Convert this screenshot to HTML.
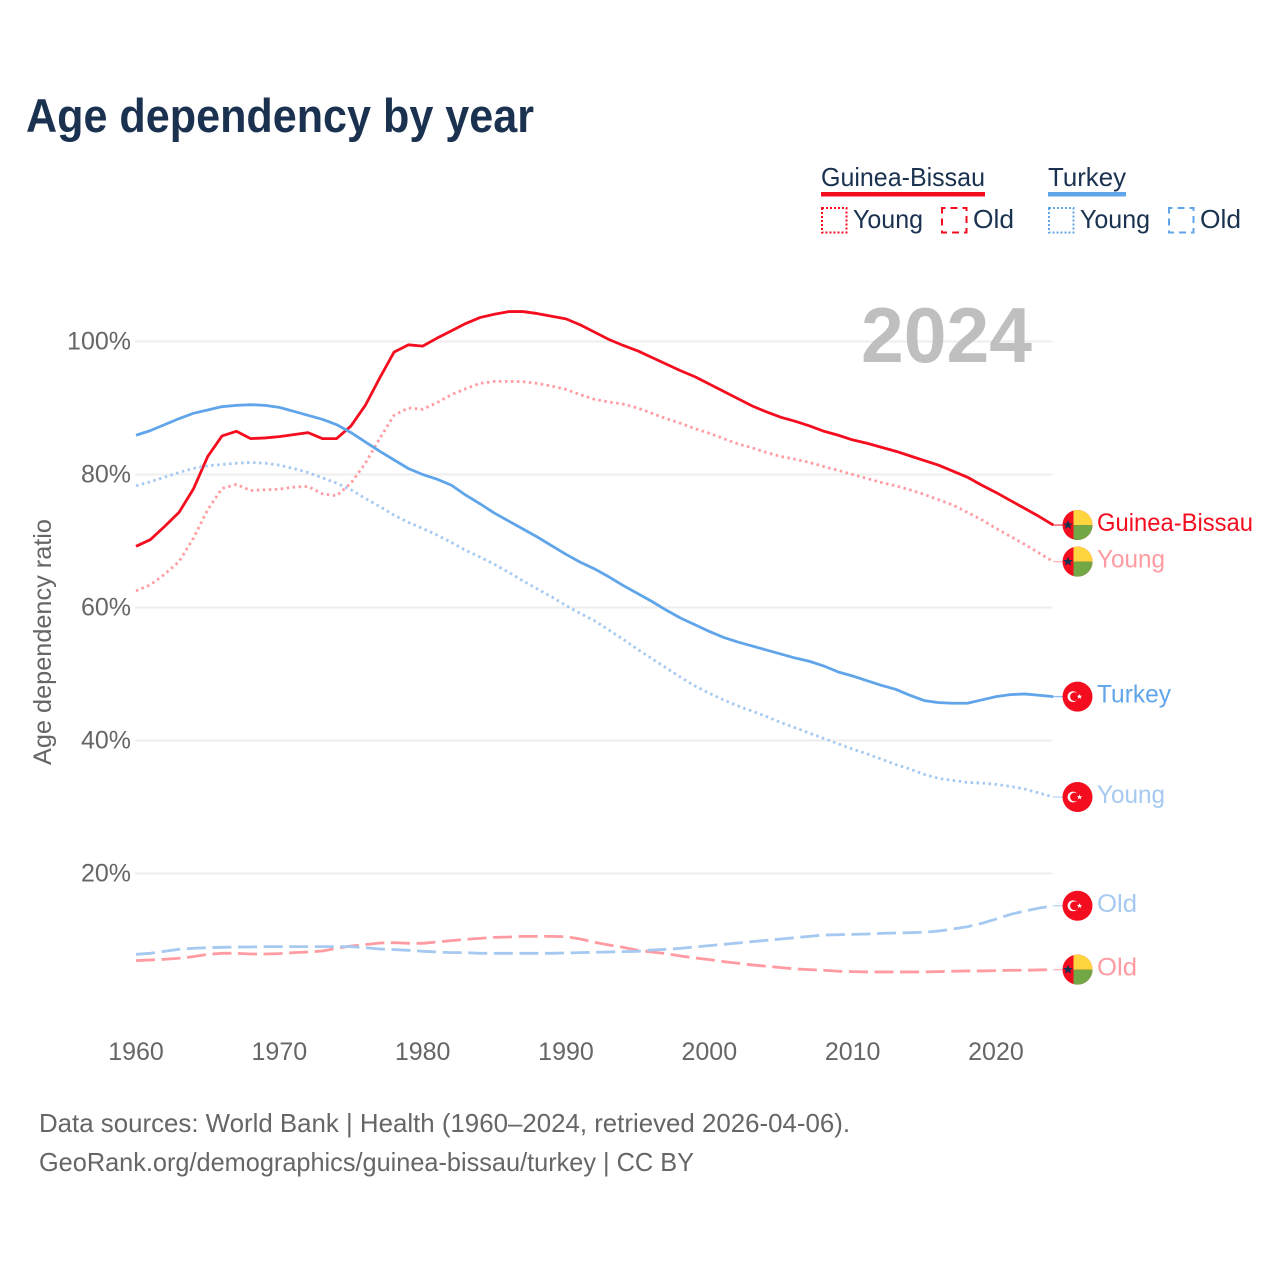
<!DOCTYPE html>
<html lang="en">
<head>
<meta charset="utf-8">
<title>Age dependency by year</title>
<style>
html,body{margin:0;padding:0;background:#fff;}
svg{display:block;font-family:"Liberation Sans",sans-serif;}
</style>
</head>
<body>
<svg id="chart" width="1280" height="1280" viewBox="0 0 1280 1280" xmlns="http://www.w3.org/2000/svg">
  <defs>
    <clipPath id="flag-clip"><circle cx="0" cy="0" r="15"></circle></clipPath>
  </defs>
  <rect x="0" y="0" width="1280" height="1280" fill="#fff"></rect>
  <text x="26" y="132" font-size="47" font-weight="700" fill="#1a3150" textLength="508" lengthAdjust="spacingAndGlyphs">Age dependency by year</text>

  <g>
    <g>
      <text x="821" y="186" font-size="26" fill="#1a3150" textLength="164" lengthAdjust="spacingAndGlyphs">Guinea-Bissau</text>
      <rect x="821" y="192" width="164" height="4.5" fill="#f40d1f"></rect>
    </g>
    <g>
      <rect x="822" y="208" width="24.5" height="24.5" fill="none" stroke="#f40d1f" stroke-width="2" stroke-dasharray="2 2"></rect>
      <text x="853" y="228" font-size="26" fill="#1a3150" textLength="70" lengthAdjust="spacingAndGlyphs">Young</text>
    </g>
    <g>
      <rect x="942" y="208" width="24.5" height="24.5" fill="none" stroke="#f40d1f" stroke-width="2" stroke-dasharray="7 5" stroke-dashoffset="3.5"></rect>
      <text x="973" y="228" font-size="26" fill="#1a3150" textLength="41" lengthAdjust="spacingAndGlyphs">Old</text>
    </g>
    <g>
      <text x="1048" y="186" font-size="26" fill="#1a3150" textLength="78" lengthAdjust="spacingAndGlyphs">Turkey</text>
      <rect x="1048" y="192" width="78" height="4.5" fill="#60a5ea"></rect>
    </g>
    <g>
      <rect x="1049" y="208" width="24.5" height="24.5" fill="none" stroke="#60a5ea" stroke-width="2" stroke-dasharray="2 2"></rect>
      <text x="1080" y="228" font-size="26" fill="#1a3150" textLength="70" lengthAdjust="spacingAndGlyphs">Young</text>
    </g>
    <g>
      <rect x="1169" y="208" width="24.5" height="24.5" fill="none" stroke="#60a5ea" stroke-width="2" stroke-dasharray="7 5" stroke-dashoffset="3.5"></rect>
      <text x="1200" y="228" font-size="26" fill="#1a3150" textLength="41" lengthAdjust="spacingAndGlyphs">Old</text>
    </g>
  </g>

  <g id="grid"></g>
  <g id="y-ticks"></g>
  <g id="x-ticks"></g>
  <text transform="translate(51 642) rotate(-90)" text-anchor="middle" font-size="25" fill="#666" textLength="246" lengthAdjust="spacingAndGlyphs">Age dependency ratio</text>
  <text x="861" y="362" font-size="78" font-weight="700" fill="#bfbfbf" textLength="171" lengthAdjust="spacingAndGlyphs">2024</text>
  <g id="series"></g>
  <g id="end-labels"></g>

  <text x="39" y="1132" font-size="26" fill="#666" textLength="811" lengthAdjust="spacingAndGlyphs">Data sources: World Bank | Health (1960–2024, retrieved 2026-04-06).</text>
  <text x="39" y="1171" font-size="26" fill="#666" textLength="655" lengthAdjust="spacingAndGlyphs">GeoRank.org/demographics/guinea-bissau/turkey | CC BY</text>
</svg>
<script>
const years = [1960,1961,1962,1963,1964,1965,1966,1967,1968,1969,1970,1971,1972,1973,1974,1975,1976,1977,1978,1979,1980,1981,1982,1983,1984,1985,1986,1987,1988,1989,1990,1991,1992,1993,1994,1995,1996,1997,1998,1999,2000,2001,2002,2003,2004,2005,2006,2007,2008,2009,2010,2011,2012,2013,2014,2015,2016,2017,2018,2019,2020,2021,2022,2023,2024];
const yTickValues = [20,40,60,80,100];
const xTickValues = [1960,1970,1980,1990,2000,2010,2020];
const guineaBissauTotal = [69.2,70.2,72.2,74.3,77.8,82.7,85.8,86.5,85.4,85.5,85.7,86.0,86.3,85.4,85.4,87.3,90.4,94.5,98.4,99.5,99.3,
100.5,101.6,102.7,103.6,104.1,104.5,104.5,104.2,103.8,103.4,102.5,101.4,100.3,99.4,98.6,97.6,96.6,95.6,94.7,93.6,92.5,91.4,
90.3,89.4,88.6,88.0,87.3,86.5,85.9,85.2,84.7,84.1,83.5,82.8,82.1,81.4,80.5,79.6,78.4,77.3,76.1,74.9,73.7,72.4];
const guineaBissauYoung = [62.5,63.4,65.0,66.9,70.4,74.7,77.9,78.5,77.6,77.7,77.8,78.1,78.2,77.1,76.8,78.7,81.7,85.4,88.9,90.0,89.8,
90.8,92.0,92.9,93.7,94.0,94.0,93.96,93.7,93.3,92.8,92.0,91.3,90.9,90.6,90.0,89.2,88.4,87.7,86.9,86.2,85.4,84.6,
84.0,83.3,82.7,82.3,81.8,81.2,80.6,80.0,79.4,78.8,78.3,77.7,77.0,76.2,75.4,74.3,73.2,71.9,70.7,69.5,68.2,66.9];
const guineaBissauOld = [6.9,7.0,7.1,7.25,7.5,7.85,8.0,8.0,7.9,7.9,7.95,8.1,8.2,8.35,8.75,9.1,9.3,9.55,9.6,9.5,9.5,9.7,9.9,10.1,10.25,10.4,10.45,10.55,10.55,10.55,10.5,10.15,9.65,9.25,8.9,
8.45,8.2,7.95,7.6,7.3,7.05,6.75,6.5,6.25,6.05,5.85,5.65,5.55,5.45,5.3,5.25,5.2,5.2,5.2,5.2,5.2,5.25,5.3,5.35,5.35,5.4,5.45,5.45,5.5,5.55];
const turkeyTotal = [85.9,86.6,87.5,88.4,89.2,89.7,90.2,90.4,90.5,90.4,90.1,89.5,88.9,88.3,87.5,86.3,84.9,83.5,82.2,80.9,80.0,
79.3,78.4,76.9,75.6,74.2,73.0,71.8,70.6,69.3,68.0,66.8,65.8,64.6,63.3,62.1,
60.9,59.6,58.4,57.4,56.4,55.5,
54.8,54.2,53.6,53.0,52.4,51.9,51.2,50.3,49.7,49.0,48.3,47.7,46.8,46.0,45.7,45.6,45.6,46.1,46.6,46.9,47.0,46.8,46.6];
const turkeyYoung = [78.3,78.9,79.6,80.3,80.9,81.3,81.5,81.7,81.8,81.7,81.4,80.9,80.3,79.5,78.7,77.7,76.4,75.2,73.9,72.8,71.9,
70.9,69.8,68.6,67.6,66.5,65.3,64.0,62.8,61.6,
60.3,59.1,58.0,56.6,55.2,53.7,52.3,50.9,49.5,48.2,47.1,46.1,45.2,
44.4,43.6,42.7,41.9,41.1,40.3,39.5,38.7,38.0,37.2,36.4,35.7,34.9,34.3,34.0,33.7,33.6,33.4,33.1,32.7,32.1,31.5];
const turkeyOld = [7.85,8.0,8.3,8.6,8.75,8.85,8.9,8.95,8.95,9.0,9.0,9.0,9.0,9.0,9.0,9.0,8.85,8.65,8.55,8.45,8.3,8.2,8.1,8.1,8.0,8.0,8.0,8.0,8.0,8.0,8.05,8.1,8.15,8.2,8.25,
8.3,8.5,8.6,8.75,8.95,9.15,9.35,9.55,9.75,9.95,10.15,10.35,10.55,10.75,10.8,10.85,10.9,11.0,11.05,11.1,11.15,11.35,11.65,12.0,12.5,13.15,13.85,14.35,14.8,15.15];

const SVG_NS = 'http://www.w3.org/2000/svg';
const xScale = function (year) { return 136 + (year - 1960) * 14.333; };
const yScale = function (value) { return 1006.5 - value * 6.65; };
const RED = '#f40d1f', BLUE = '#60a5ea', PINK = '#ff9ba1', SKY = '#a5c9f0';
const DOTTED = '2.5 3.5', DASHED = '19 6.6';

const seriesList = [
  { key: 'guinea-bissau-total', values: guineaBissauTotal, color: RED,  dash: null,   flag: 'gw', label: 'Guinea-Bissau', fit: 156 },
  { key: 'guinea-bissau-young', values: guineaBissauYoung, color: PINK, dash: DOTTED, flag: 'gw', label: 'Young', fit: 68 },
  { key: 'guinea-bissau-old',   values: guineaBissauOld,   color: PINK, dash: DASHED, flag: 'gw', label: 'Old', fit: 40 },
  { key: 'turkey-total',        values: turkeyTotal,       color: BLUE, dash: null,   flag: 'tr', label: 'Turkey', fit: 74 },
  { key: 'turkey-young',        values: turkeyYoung,       color: SKY,  dash: DOTTED, flag: 'tr', label: 'Young', fit: 68 },
  { key: 'turkey-old',          values: turkeyOld,         color: SKY,  dash: DASHED, flag: 'tr', label: 'Old', fit: 40 }
];

function make(tag, attrs, parent) {
  const el = document.createElementNS(SVG_NS, tag);
  Object.keys(attrs).forEach(function (k) { el.setAttribute(k, attrs[k]); });
  parent.appendChild(el);
  return el;
}

const gridLayer = document.getElementById('grid');
const yTickLayer = document.getElementById('y-ticks');
const xTickLayer = document.getElementById('x-ticks');
const seriesLayer = document.getElementById('series');
const labelLayer = document.getElementById('end-labels');

yTickValues.forEach(function (v) {
  const line = make('line', { x1: 135, x2: 1052.5, y1: yScale(v), y2: yScale(v), stroke: '#eeeeee', 'stroke-width': 2 }, gridLayer);
  
  
  const label = make('text', { x: 131, y: yScale(v) + 8, 'text-anchor': 'end', 'font-size': 25, fill: '#666' }, yTickLayer);
  label.textContent = v + '%';
  
  
});

xTickValues.forEach(function (year) {
  const label = make('text', { x: xScale(year), y: 1060, 'text-anchor': 'middle', 'font-size': 25, fill: '#666' }, xTickLayer);
  label.textContent = String(year);
  
  
});

function drawFlag(kind, cx, cy, parent) {
  const g = make('g', { transform: 'translate(' + cx + ' ' + cy + ')' }, parent);
  
  
  const inner = make('g', { 'clip-path': 'url(#flag-clip)' }, g);
  if (kind === 'gw') {
    make('rect', { x: -16, y: -16, width: 32, height: 32, fill: '#f40d1f' }, inner);
    make('rect', { x: -4, y: -16, width: 20, height: 16, fill: '#ffd53f' }, inner);
    make('rect', { x: -4, y: 0, width: 20, height: 16, fill: '#71a845' }, inner);
    make('polygon', { points: '-9.5,-5 -8.1,-1.6 -4.6,-1.6 -7.3,0.6 -6.4,4 -9.5,2 -12.6,4 -11.7,0.6 -14.4,-1.6 -10.9,-1.6', fill: '#1a3150' }, inner);
  } else {
    make('rect', { x: -16, y: -16, width: 32, height: 32, fill: '#f40d1f' }, inner);
    make('circle', { cx: -4.5, cy: 0, r: 5.4, fill: '#fff' }, inner);
    make('circle', { cx: -3, cy: 0, r: 4.4, fill: '#f40d1f' }, inner);
    make('polygon', { points: '0.5,-2.6 1.3,-0.8 3.2,-0.8 1.7,0.4 2.2,2.3 0.5,1.2 -1.2,2.3 -0.7,0.4 -2.2,-0.8 -0.3,-0.8', fill: '#fff', transform: 'translate(1.5 0)' }, inner);
  }
}

seriesList.forEach(function (s) {
  const points = s.values.map(function (v, i) { return xScale(years[i]).toFixed(2) + ',' + yScale(v).toFixed(2); }).join(' ');
  const attrs = { points: points, fill: 'none', stroke: s.color, 'stroke-width': 2.8, 'stroke-linejoin': 'round' };
  if (s.dash) attrs['stroke-dasharray'] = s.dash;
  const line = make('polyline', attrs, seriesLayer);
  
  

  const lastValue = s.values[s.values.length - 1];
  const endX = xScale(years[years.length - 1]);
  const endY = yScale(lastValue);
  const connector = make('line', { x1: endX, x2: 1066, y1: endY, y2: endY, stroke: s.color, 'stroke-width': 1.4, opacity: 0.7 }, labelLayer);
  
  

  drawFlag(s.flag, 1077.5, endY, labelLayer);

  const label = make('text', { x: 1097, y: endY + 6, 'font-size': 25, fill: s.color, textLength: s.fit, lengthAdjust: 'spacingAndGlyphs' }, labelLayer);
  label.textContent = s.label;
  
  
});
</script>
</body>
</html>
